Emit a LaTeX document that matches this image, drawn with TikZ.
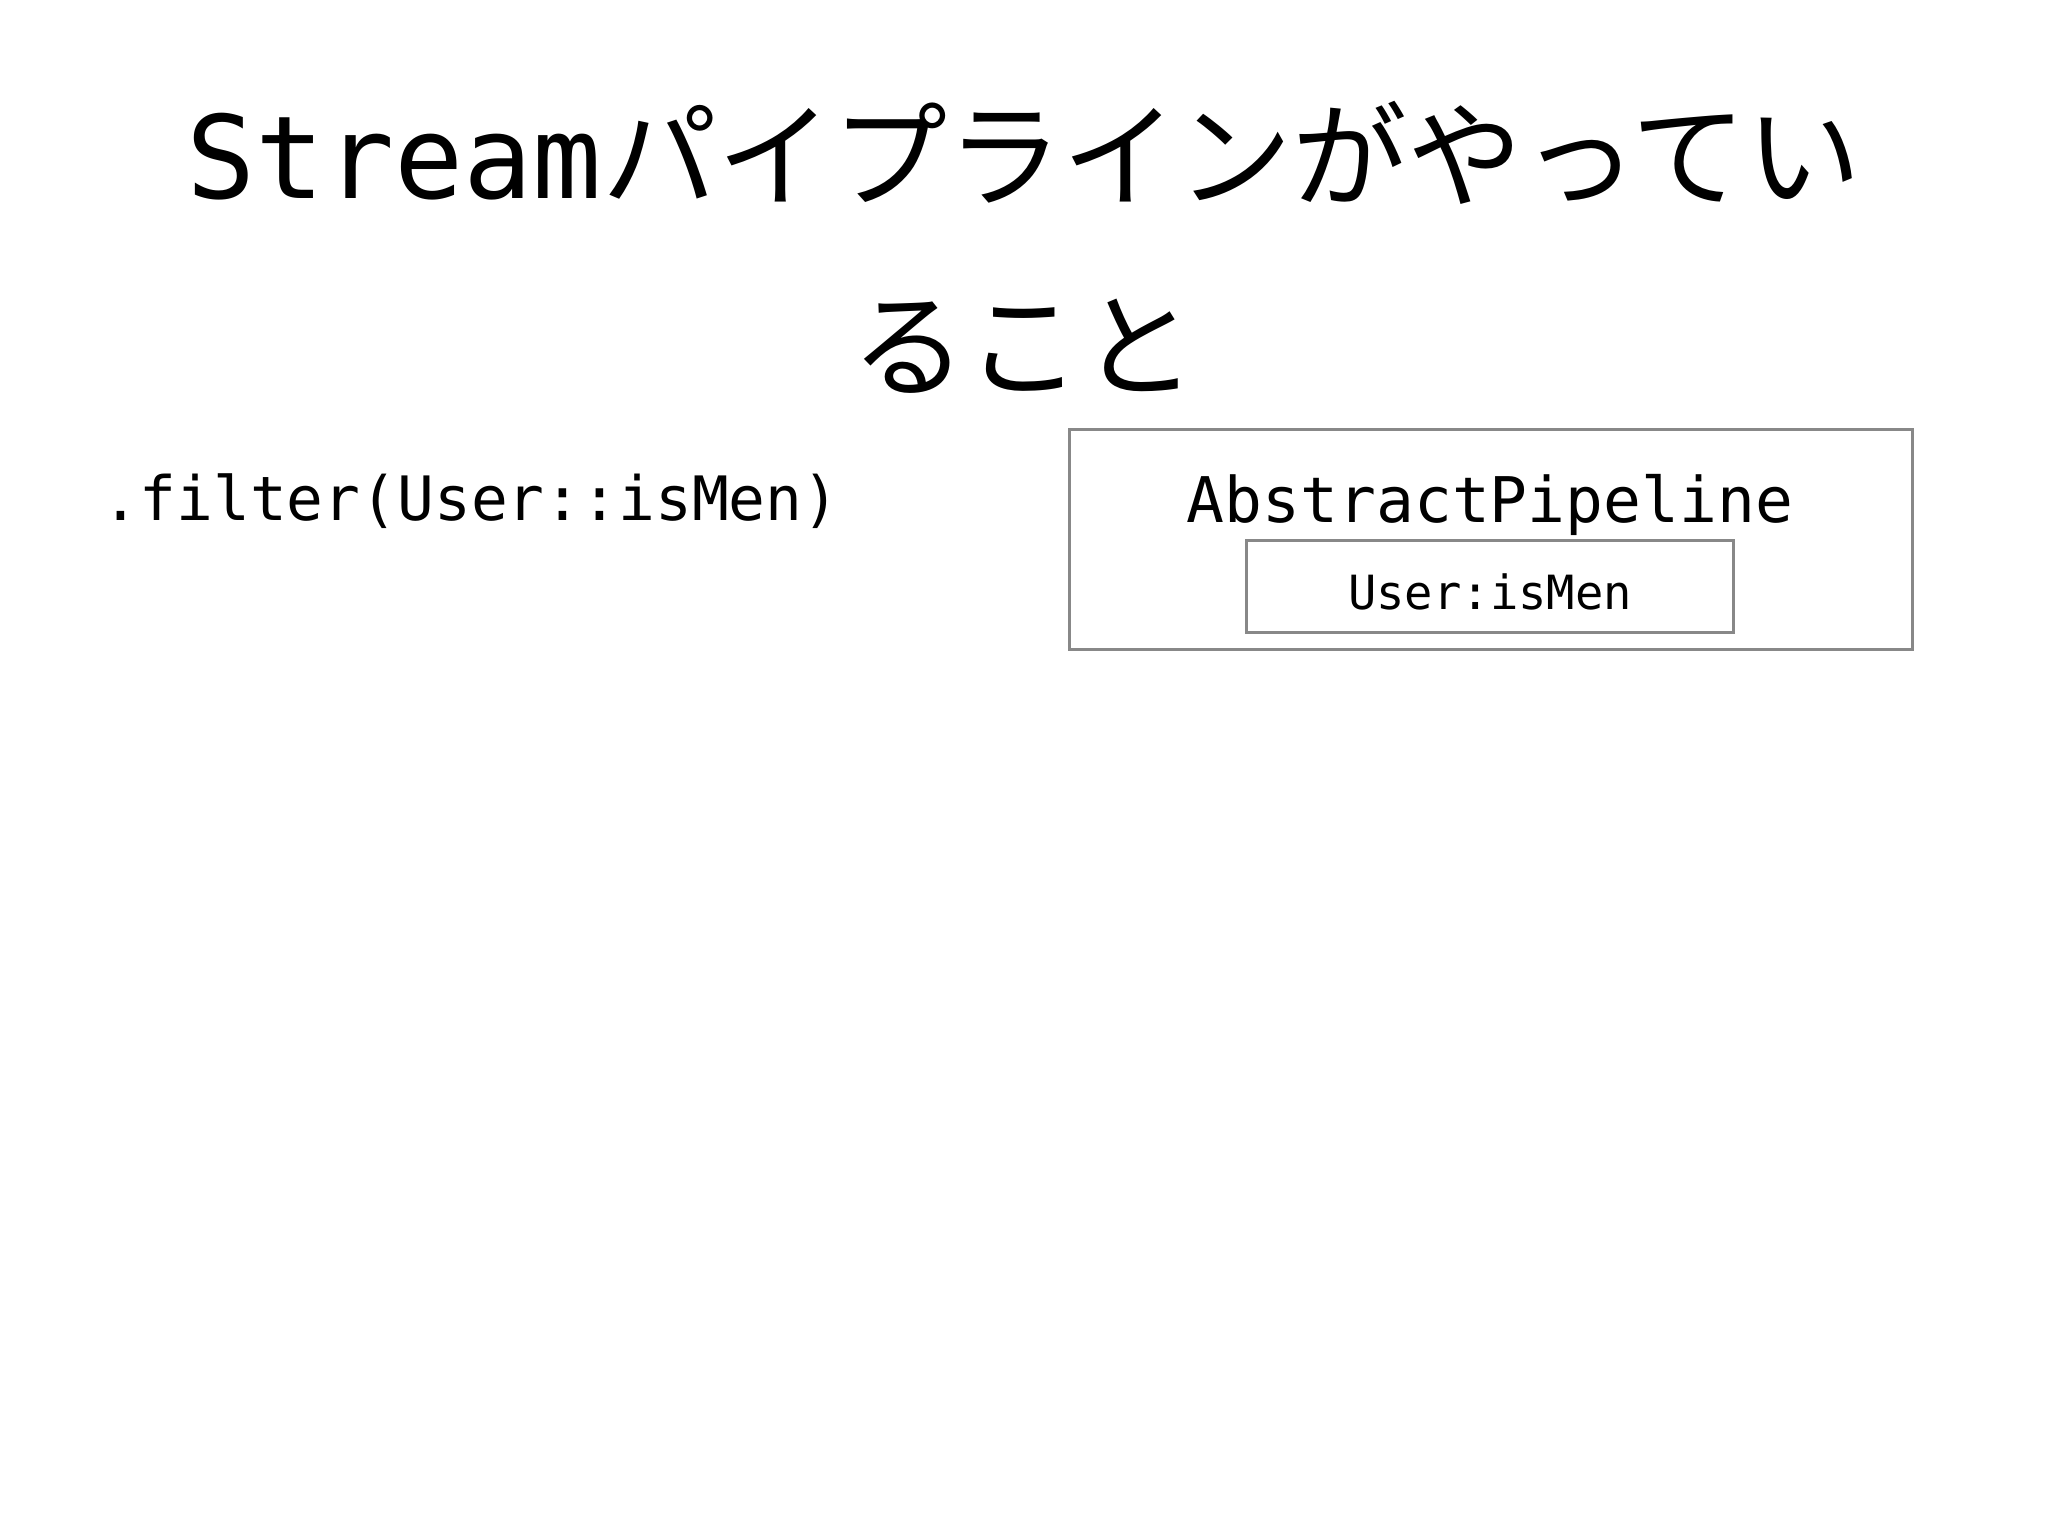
\documentclass[tikz,border=0pt]{standalone}
\usepackage{fontspec}
\newfontfamily\jpfont{Noto Sans CJK JP}
\newfontfamily\codefont{DejaVu Sans Mono}
\definecolor{boxgray}{HTML}{888888}
\tikzset{
  framebox/.style={draw=boxgray, line width=0.85pt, inner sep=0pt},
  titletext/.style={anchor=base, inner sep=0pt, font=\fontsize{32.7}{36}\selectfont},
  codetext/.style={anchor=base, inner sep=0pt, font=\codefont\fontsize{#1}{#1}\selectfont},
}
\begin{document}
\begin{tikzpicture}[x=0.01cm, y=-0.01cm]
\useasboundingbox (0,0) rectangle (2048,1536);
\def\bx{1491}
\def\by{539.5}

% title
\node[titletext] (title1) at (1024, 198) {{\codefont Stream}\jpfont パイプラインがやってい};
\node[titletext] (title2) at (1024, 388) {\jpfont ること};

% code
\node[codetext=17.4, anchor=base west] (filter) at (102, 520) {.filter(User::isMen)};

% pipeline boxes
\node[framebox, minimum width=8.42cm, minimum height=2.19cm] (pipe) at (\bx, \by) {};
\node[codetext=17.9] (pipename) at (\bx - 1, 522) {AbstractPipeline};
\node[framebox, minimum width=4.86cm, minimum height=0.91cm] (pred) at (\bx - 1, 586.5) {};
\node[codetext=13.4] (predname) at (\bx - 1, 609) {User:isMen};
\end{tikzpicture}
\end{document}
